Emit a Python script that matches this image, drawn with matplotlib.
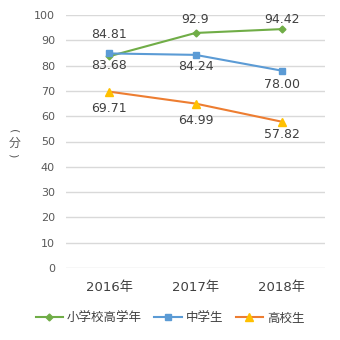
import matplotlib
matplotlib.use("Agg")
import matplotlib.pyplot as plt
from matplotlib.lines import Line2D

plt.rcParams['font.family'] = ['DejaVu Sans', 'Noto Sans CJK JP']

years = ["2016年", "2017年", "2018年"]
elem = [83.68, 92.9, 94.42]
junior = [84.81, 84.24, 78.00]
high = [69.71, 64.99, 57.82]
elem_labels = ["83.68", "92.9", "94.42"]
junior_labels = ["84.81", "84.24", "78.00"]
high_labels = ["69.71", "64.99", "57.82"]
yticks = [0, 10, 20, 30, 40, 50, 60, 70, 80, 90, 100]

fig = plt.figure(figsize=(3.4, 3.4), dpi=100)
ax = fig.add_axes([66/340, 1-268/340, 259/340, 253/340])

x = [0.5, 1.5, 2.5]
green = '#70AD47'
blue = '#5B9BD5'
orange = '#ED7D31'
yellow = '#FFC000'
tc = '#404040'

ax.plot(x, elem, color=green, lw=1.5, marker='D', ms=3.5, mfc=green, mec=green, zorder=3)
ax.plot(x, junior, color=blue, lw=1.5, marker='s', ms=5, mfc=blue, mec=blue, zorder=3)
ax.plot(x, high, color=orange, lw=1.5, marker='^', ms=6, mfc=yellow, mec=yellow, zorder=3)

fs = 9
label_sets = [
    (elem, elem_labels, [-9, 13, 10]),
    (junior, junior_labels, [19, -12, -14]),
    (high, high_labels, [-17, -17, -13]),
]
for vals, labs, offs in label_sets:
    for xi, yi, lab, o in zip(x, vals, labs, offs):
        ax.annotate(lab, (xi, yi), xytext=(0, o), textcoords='offset pixels',
                    ha='center', va='center', fontsize=fs, color=tc)

ax.set_xlim(0, 3)
ax.set_ylim(0, 100)
ax.set_yticks(yticks)
ax.set_yticklabels([str(v) for v in yticks], fontsize=8, color='#595959')
ax.set_xticks(x)
ax.set_xticklabels(years, fontsize=9.5, color=tc)
ax.tick_params(length=0, pad=8)
ax.tick_params(axis='x', pad=9)
ax.grid(axis='y', color='#D9D9D9', lw=1)
ax.set_axisbelow(True)
for s in ax.spines.values():
    s.set_visible(False)

# vertical y-axis label: rotated parentheses around an upright character
cx = 15/340
px = 13/340
jp = ['Noto Sans CJK JP']
fig.text(px, 1-131/340, "(", ha='center', va='center', fontsize=8, color='#595959',
         rotation=-90, rotation_mode='anchor')
fig.text(cx, 1-143/340, "分", ha='center', va='center', fontsize=8.5, color='#595959', family=jp)
fig.text(px, 1-155/340, ")", ha='center', va='center', fontsize=8, color='#595959',
         rotation=-90, rotation_mode='anchor')

handles = [
    Line2D([], [], color=green, lw=1.5, marker='D', ms=3.5, mfc=green, mec=green),
    Line2D([], [], color=blue, lw=1.5, marker='s', ms=4.5, mfc=blue, mec=blue),
    Line2D([], [], color=orange, lw=1.5, marker='^', ms=5.5, mfc=yellow, mec=yellow),
]
fig.legend(handles, ["小学校高学年", "中学生", "高校生"], loc='center',
           bbox_to_anchor=(0.5, 1-318/340), ncol=3, frameon=False,
           prop={'family': jp, 'size': 9},
           handlelength=2.2, handletextpad=0.3, columnspacing=1.0,
           labelcolor=tc)

fig.savefig("out.png", dpi=100)
